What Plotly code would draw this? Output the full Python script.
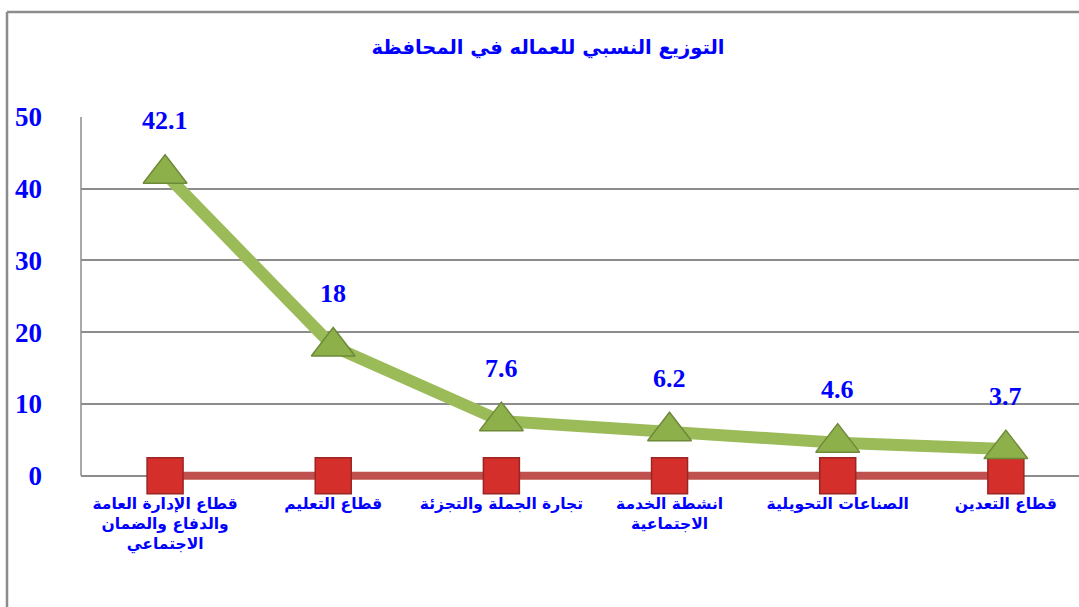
import plotly.graph_objects as go

categories = [
    "قطاع الإدارة العامة<br>والدفاع والضمان<br>الاجتماعي",
    "قطاع التعليم",
    "تجارة الجملة والتجزئة",
    "انشطة الخدمة<br>الاجتماعية",
    "الصناعات التحويلية",
    "قطاع التعدين",
]
share_values = [42.1, 18, 7.6, 6.2, 4.6, 3.7]
base_values = [0, 0, 0, 0, 0, 0]
y_ticks = [0, 10, 20, 30, 40, 50]
title_text = "التوزيع النسبي للعماله في المحافظة"

W, H = 1079, 607
PLOT_L, PLOT_TOP, ZERO_Y = 81, 117, 476
Y_MIN, Y_MAX = -2, 50
PPU = (ZERO_Y - PLOT_TOP) / Y_MAX
PLOT_BOTTOM = ZERO_Y - Y_MIN * PPU
ML, MR, MT, MB = PLOT_L, 0, PLOT_TOP, H - PLOT_BOTTOM
BLUE = "#0000FF"
GRID = "#8C8C8C"

fig = go.Figure()
fig.add_trace(go.Scatter(
    x=categories, y=base_values, mode="lines+markers",
    line=dict(color="#C0504D", width=8),
    marker=dict(symbol="square", size=36, color="#D42F2B",
                line=dict(color="#9A2623", width=1.5)),
    cliponaxis=False, showlegend=False, hoverinfo="skip",
))
fig.add_trace(go.Scatter(
    x=categories, y=share_values, mode="lines+markers",
    line=dict(color="#9BBB59", width=12),
    marker=dict(symbol="triangle-up", size=38, color="#8DB04A",
                line=dict(color="#6E8A38", width=1.5)),
    cliponaxis=False, showlegend=False, hoverinfo="skip",
))

for c, v in zip(categories, share_values):
    fig.add_annotation(x=c, y=v, text=f"<b>{v:g}</b>", showarrow=False, yshift=53,
                       font=dict(family="Liberation Serif", size=26, color=BLUE),
                       xref="x", yref="y")

def px2paper_x(px):
    return (px - ML) / (W - ML - MR)

def py2paper_y(py):
    return (H - MB - py) / (H - MT - MB)

# outer frame lines
fig.add_shape(type="line", xref="paper", yref="paper",
              x0=px2paper_x(7), x1=px2paper_x(W + 5), y0=py2paper_y(12), y1=py2paper_y(12),
              line=dict(color="#8C8C8C", width=2.5))
fig.add_shape(type="line", xref="paper", yref="paper",
              x0=px2paper_x(7), x1=px2paper_x(7), y0=py2paper_y(12), y1=py2paper_y(H + 5),
              line=dict(color="#8C8C8C", width=2.5))
# vertical value axis line (from 0 to max)
fig.add_shape(type="line", xref="paper", yref="y", x0=0, x1=0, y0=0, y1=Y_MAX,
              line=dict(color=GRID, width=1.5), layer="below")

fig.update_layout(
    width=W, height=H,
    margin=dict(l=ML, r=MR, t=MT, b=MB),
    paper_bgcolor="white", plot_bgcolor="white",
    title=dict(text="<b>" + title_text + "</b>", x=548 / W, xanchor="center",
               y=1 - 47 / H, yanchor="middle",
               font=dict(family="DejaVu Sans", size=19.5, color=BLUE)),
)
fig.update_xaxes(
    type="category", range=[-0.5, 5.435],
    showgrid=False, showline=False, zeroline=False,
    ticks="", tickfont=dict(family="DejaVu Sans", size=15.5, color=BLUE),
    tickvals=categories, ticktext=["<b>" + c + "</b>" for c in categories],
    ticklabelstandoff=2,
)
fig.update_yaxes(
    range=[Y_MIN, Y_MAX], tickvals=y_ticks, ticktext=[f"<b>{t}</b>" for t in y_ticks],
    showgrid=True, gridcolor=GRID, gridwidth=1.5,
    showline=False, zeroline=False, ticks="",
    tickfont=dict(family="Liberation Serif", size=27, color=BLUE),
    ticklabelstandoff=38,
)

fig.write_html("out.html", config={"displayModeBar": False},
               post_script="document.body.style.margin='0';document.body.style.overflow='hidden';")
